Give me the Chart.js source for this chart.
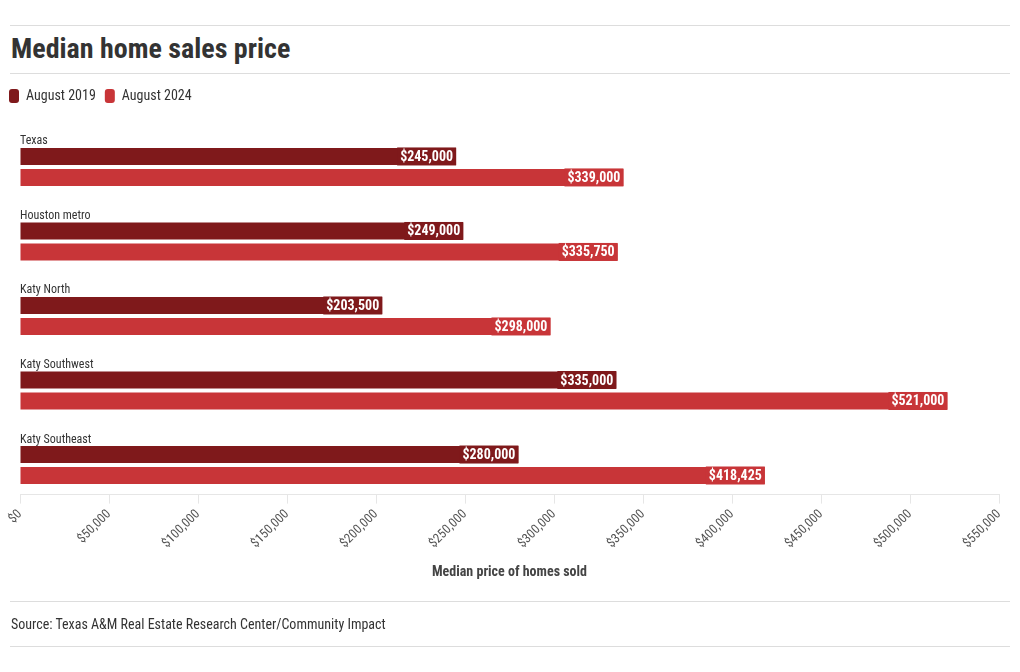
<!DOCTYPE html>
<html>
<head>
<meta charset="utf-8">
<script src="https://cdn.jsdelivr.net/npm/chart.js@4"></script>
<style>
  body { margin: 0; background: #fff; }
  #wrap { position: relative; width: 1020px; height: 672px; font-family: "Roboto Condensed", "Liberation Sans Narrow", "DejaVu Sans Condensed", Roboto, sans-serif; color: #333; }
  .rule { position: absolute; left: 10px; width: 1000px; height: 0; border-top: 1px solid #ddd; }
  #title { position: absolute; left: 11px; top: 32px; font-size: 28px; font-weight: bold; color: #333; white-space: nowrap; }
  #source { position: absolute; left: 11px; top: 616px; font-size: 14px; color: #333; white-space: nowrap; }
  canvas { position: absolute; left: 0; top: 0; }
</style>
</head>
<body>
<div id="wrap">
  <div class="rule" style="top:25px"></div>
  <div id="title">Median home sales price</div>
  <div class="rule" style="top:73px"></div>
  <canvas id="chart" width="1020" height="672"></canvas>
  <div class="rule" style="top:601px"></div>
  <div id="source">Source: Texas A&amp;M Real Estate Research Center/Community Impact</div>
  <div class="rule" style="top:646px"></div>
</div>
<script>
const FONT = '"Roboto Condensed", "Liberation Sans Narrow", "DejaVu Sans Condensed", Roboto, sans-serif';

const regions = ["Texas", "Houston metro", "Katy North", "Katy Southwest", "Katy Southeast"];
const aug2019 = [245000, 249000, 203500, 335000, 280000];
const aug2024 = [339000, 335750, 298000, 521000, 418425];
const seriesNames = ["August 2019", "August 2024"];
const seriesColors = ["#7f191b", "#c83538"];

const money = v => '$' + Number(v).toLocaleString('en-US');

// category names sit above each pair of bars
const regionLabels = {
  id: 'regionLabels',
  afterDatasetsDraw(chart) {
    const ctx = chart.ctx;
    const y = chart.scales.y;
    ctx.save();
    ctx.font = '12px ' + FONT;
    ctx.fillStyle = '#333';
    ctx.textAlign = 'left';
    ctx.textBaseline = 'middle';
    regions.forEach((name, i) => {
      ctx.fillText(name, chart.chartArea.left, y.getPixelForValue(i) - 25.5);
    });
    ctx.restore();
  }
};

// value tag at the end of every bar
const valueTags = {
  id: 'valueTags',
  afterDatasetsDraw(chart) {
    const ctx = chart.ctx;
    ctx.save();
    ctx.font = 'bold 14px ' + FONT;
    ctx.textAlign = 'right';
    ctx.textBaseline = 'middle';
    chart.data.datasets.forEach((ds, di) => {
      chart.getDatasetMeta(di).data.forEach((bar, i) => {
        const txt = money(ds.data[i].x);
        const w = ctx.measureText(txt).width + 6;
        ctx.fillStyle = ds.backgroundColor;
        ctx.fillRect(bar.x - w, bar.y - 9, w, 18);
        ctx.fillStyle = '#fff';
        ctx.fillText(txt, bar.x - 3, bar.y + 1);
      });
    });
    ctx.restore();
  }
};

const datasets = [aug2019, aug2024].map((vals, s) => ({
  label: seriesNames[s],
  data: vals.map((v, i) => ({ x: v, y: i })),
  backgroundColor: seriesColors[s],
  borderWidth: 0,
  categoryPercentage: 0.563,
  barPercentage: 0.81,
}));

new Chart(document.getElementById('chart'), {
  type: 'bar',
  data: { datasets: datasets },
  options: {
    responsive: false,
    animation: false,
    indexAxis: 'y',
    layout: { padding: { left: 0, right: 21, top: 80, bottom: 91 } },
    plugins: {
      legend: {
        display: true,
        position: 'top',
        align: 'start',
        labels: {
          boxWidth: 10,
          boxHeight: 14,
          useBorderRadius: true,
          borderRadius: 3,
          padding: 9,
          color: '#333',
          font: { family: FONT, size: 14 },
        },
      },
      tooltip: { enabled: false },
    },
    scales: {
      y: {
        type: 'linear',
        reverse: true,
        min: -0.724,
        max: 4.397,
        afterBuildTicks: s => { s.ticks = []; },
        afterFit: s => { s.width = 20; },
        ticks: { display: false },
        grid: { display: false },
        border: { display: false },
      },
      x: {
        type: 'linear',
        min: 0,
        max: 550000,
        ticks: {
          stepSize: 50000,
          minRotation: 45,
          maxRotation: 45,
          padding: 3,
          color: '#555',
          font: { family: FONT, size: 13 },
          callback: v => money(v),
        },
        grid: {
          drawOnChartArea: false,
          drawTicks: true,
          tickLength: 9,
          color: '#e6e6e6',
        },
        border: { display: true, color: '#e6e6e6' },
        title: {
          display: true,
          text: 'Median price of homes sold',
          color: '#444',
          font: { family: FONT, size: 14, weight: 'bold' },
          padding: { top: 10, bottom: 0 },
        },
      },
    },
  },
  plugins: [regionLabels, valueTags],
});
</script>
</body>
</html>
